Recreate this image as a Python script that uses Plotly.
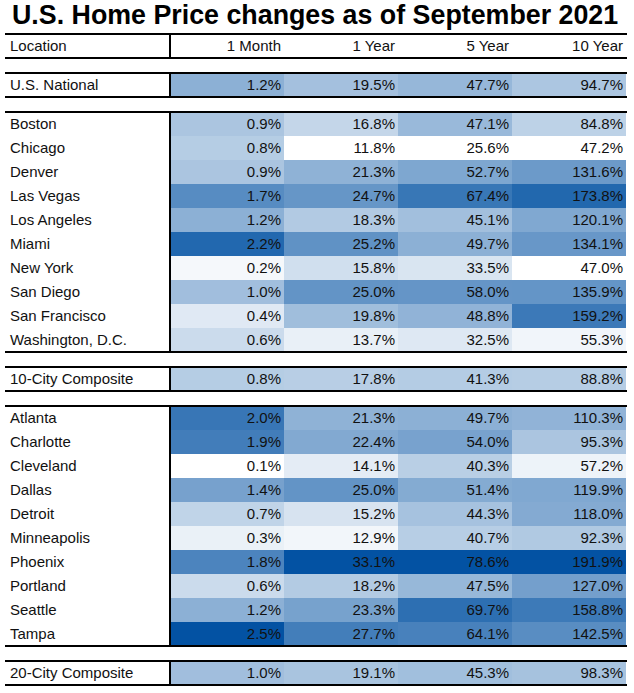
import plotly.graph_objects as go

# values (percent change)
locations = ["U.S. National",
             "Boston", "Chicago", "Denver", "Las Vegas", "Los Angeles", "Miami",
             "New York", "San Diego", "San Francisco", "Washington, D.C.",
             "10-City Composite",
             "Atlanta", "Charlotte", "Cleveland", "Dallas", "Detroit", "Minneapolis",
             "Phoenix", "Portland", "Seattle", "Tampa",
             "20-City Composite"]
one_month = [1.2,
             0.9, 0.8, 0.9, 1.7, 1.2, 2.2, 0.2, 1.0, 0.4, 0.6,
             0.8,
             2.0, 1.9, 0.1, 1.4, 0.7, 0.3, 1.8, 0.6, 1.2, 2.5,
             1.0]
one_year = [19.5,
            16.8, 11.8, 21.3, 24.7, 18.3, 25.2, 15.8, 25.0, 19.8, 13.7,
            17.8,
            21.3, 22.4, 14.1, 25.0, 15.2, 12.9, 33.1, 18.2, 23.3, 27.7,
            19.1]
five_year = [47.7,
             47.1, 25.6, 52.7, 67.4, 45.1, 49.7, 33.5, 58.0, 48.8, 32.5,
             41.3,
             49.7, 54.0, 40.3, 51.4, 44.3, 40.7, 78.6, 47.5, 69.7, 64.1,
             45.3]
ten_year = [94.7,
            84.8, 47.2, 131.6, 173.8, 120.1, 134.1, 47.0, 135.9, 159.2, 55.3,
            88.8,
            110.3, 95.3, 57.2, 119.9, 118.0, 92.3, 191.9, 127.0, 158.8, 142.5,
            98.3]
columns = ["1 Month", "1 Year", "5 Year", "10 Year"]
group_sizes = [1, 10, 1, 10, 1]

title = "U.S. Home Price changes as of September 2021"

# layout (pixel units)
W, H = 634, 693
ROW, GAP, TOP = 24, 15, 34
LEFT, SPLIT, RIGHT = 5, 170, 627
TXT_DY = 1.5  # nudge text down to sit like the original
col_w = (626 - SPLIT) / len(columns)
x_edges = [SPLIT + i * col_w for i in range(len(columns) + 1)]
FONT = "Liberation Sans, Arial, sans-serif"

series = [one_month, one_year, five_year, ten_year]

# normalise each column separately (min -> white, max -> dark blue)
norm = []
for s in series:
    lo, hi = min(s), max(s)
    norm.append([(v - lo) / (hi - lo) for v in s])

# row positions, with gaps between groups
y_edges = [TOP + ROW + GAP]
z = []
row_centres = []
boxes = [(TOP, TOP + ROW)]
i = 0
for g, n in enumerate(group_sizes):
    top = y_edges[-1]
    for _ in range(n):
        z.append([norm[c][i] for c in range(len(columns))])
        row_centres.append(y_edges[-1] + ROW / 2 + TXT_DY)
        y_edges.append(y_edges[-1] + ROW)
        i += 1
    boxes.append((top, y_edges[-1]))
    if g < len(group_sizes) - 1:
        z.append([None] * len(columns))
        y_edges.append(y_edges[-1] + GAP)

fig = go.Figure()

fig.add_trace(go.Heatmap(
    x=x_edges, y=y_edges, z=z,
    colorscale=[[0, "#ffffff"], [1, "#0352a3"]],
    zmin=0, zmax=1, showscale=False, hoverinfo="skip",
))

txt_font = dict(family=FONT, size=15, color="#111111")

# location labels
fig.add_trace(go.Scatter(
    x=[10] * len(locations), y=row_centres, text=locations,
    mode="text", textposition="middle right", textfont=txt_font,
    hoverinfo="skip",
))

# values, right aligned in each column
for c, s in enumerate(series):
    fig.add_trace(go.Scatter(
        x=[x_edges[c + 1] - 3] * len(s), y=row_centres,
        text=[f"{v:.1f}%" for v in s],
        mode="text", textposition="middle left", textfont=txt_font,
        hoverinfo="skip",
    ))

# header row
fig.add_trace(go.Scatter(
    x=[10] + [x_edges[c + 1] - 3 for c in range(len(columns))],
    y=[TOP + ROW / 2 + TXT_DY] * (len(columns) + 1),
    text=["Location"] + columns,
    mode="text",
    textposition=["middle right"] + ["middle left"] * len(columns),
    textfont=txt_font, hoverinfo="skip",
))

# box borders: top/bottom lines and the column separator
for top, bottom in boxes:
    for yy in (top, bottom):
        fig.add_shape(type="line", x0=LEFT, x1=RIGHT, y0=yy, y1=yy,
                      line=dict(color="black", width=2))
    fig.add_shape(type="line", x0=SPLIT, x1=SPLIT, y0=top, y1=bottom,
                  line=dict(color="black", width=2))

fig.update_layout(
    width=W, height=H,
    margin=dict(l=0, r=0, t=0, b=0),
    paper_bgcolor="white", plot_bgcolor="white",
    showlegend=False,
    title=dict(text=f"<b>{title}</b>", x=0.497, xanchor="center",
               yref="container", y=1 - 15 / H, yanchor="middle",
               font=dict(family=FONT, size=26.8, color="black")),
    xaxis=dict(range=[0, W], visible=False, fixedrange=True),
    yaxis=dict(range=[H, 0], visible=False, fixedrange=True),
)

# drop the default page margin so the figure sits at the window's corner
fig.write_html("out.html", config={"displayModeBar": False},
               post_script="document.body.style.margin = '0';")
